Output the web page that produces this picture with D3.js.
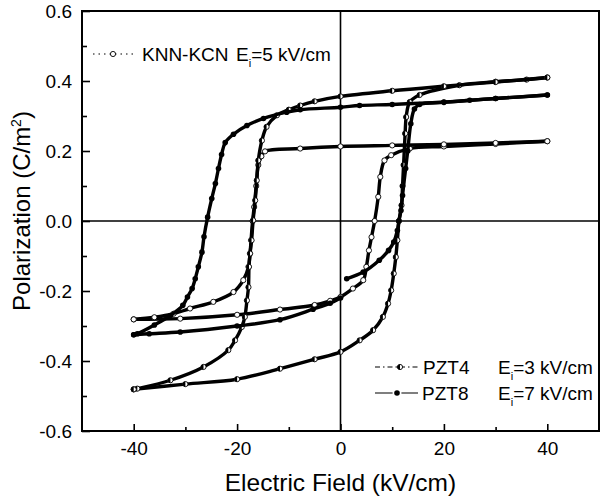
<!DOCTYPE html>
<html>
<head>
<meta charset="utf-8">
<script src="https://cdn.jsdelivr.net/npm/d3@7"></script>
<style>
  body { margin: 0; background: #fff; }
  text { font-family: "Liberation Sans", Arial, sans-serif; fill: #000; }
</style>
</head>
<body>
<div id="chart"></div>
<script>
// tick values
var xMajor = [-40, -20, 0, 20, 40];
var xMinor = [-30, -10, 10, 30];
var yMajor = [-0.6, -0.4, -0.2, 0.0, 0.2, 0.4, 0.6];
var yMinor = [-0.5, -0.3, -0.1, 0.1, 0.3, 0.5];

// KNN-KCN loop, [E kV/cm, P C/m2]
var knnRise = [[-40,-0.281],[-31,-0.279],[-20,-0.268],[-11.7,-0.253],[-5,-0.24],[-2,-0.228],[0,-0.217],
  [2.4,-0.193],[4.4,-0.169],[5,-0.131],[5.5,-0.084],[6,-0.046],[6.6,0],[7.3,0.069],[7.7,0.126],
  [8.5,0.173],[9.8,0.188],[13.4,0.207],[20,0.213],[30,0.22],[40,0.228]];
var knnFall = [[40,0.228],[30,0.223],[20,0.219],[10,0.216],[0,0.213],[-7.8,0.207],[-14.6,0.199],
  [-15.3,0.185],[-15.9,0.16],[-16.3,0.1],[-16.7,0.04],[-17,0],[-17.3,-0.055],[-17.5,-0.093],
  [-17.8,-0.131],[-18.8,-0.169],[-20.7,-0.203],[-24.6,-0.231],[-29.1,-0.25],[-32.3,-0.265],
  [-36,-0.275],[-40,-0.281]];

// PZT4 loop
var pzt4Rise = [[-40,-0.481],[-30,-0.466],[-20,-0.452],[-11.7,-0.422],[-5,-0.395],[0,-0.374],
  [3.7,-0.341],[6.3,-0.312],[8.2,-0.274],[9.2,-0.236],[9.8,-0.198],[10.3,-0.15],[10.7,-0.103],
  [11,-0.055],[11.3,0],[11.8,0.045],[12,0.1],[12.2,0.16],[12.5,0.25],[12.7,0.297],[13.4,0.34],
  [15.3,0.36],[23,0.388],[30,0.398],[36,0.404],[40,0.41]];
var pzt4Fall = [[40,0.41],[30,0.397],[20,0.385],[10,0.372],[0,0.356],[-5,0.342],[-7.8,0.33],
  [-10,0.318],[-12.3,0.302],[-14.3,0.269],[-15.2,0.23],[-15.9,0.173],[-16.2,0.116],[-16.5,0.059],
  [-16.9,0.002],[-17.2,-0.055],[-17.5,-0.093],[-17.7,-0.131],[-17.8,-0.189],[-18.1,-0.227],
  [-18.5,-0.274],[-19.1,-0.303],[-20.4,-0.341],[-21.7,-0.369],[-26.5,-0.417],[-32.9,-0.455],
  [-39.3,-0.479],[-40,-0.481]];

// PZT8 loop (starts near E=0 on the lower branch)
var pzt8Up = [[1.2,-0.165],[4.4,-0.146],[7.5,-0.112],[9.3,-0.084],[10.3,-0.06],[11,-0.027],
  [11.3,0],[11.7,0.03],[12,0.073],[12.6,0.15],[13,0.2],[13.6,0.278],[14.3,0.32],[15.3,0.333],
  [20,0.339],[25,0.345],[30,0.35],[40,0.36]];
var pzt8Down = [[40,0.36],[30,0.35],[20,0.34],[10,0.333],[3.7,0.33],[0,0.325],[-7.8,0.318],
  [-10.4,0.311],[-14.9,0.293],[-18.1,0.273],[-20.7,0.248],[-22.3,0.224],[-23,0.19],[-23.6,0.15],
  [-24.2,0.107],[-24.9,0.064],[-25.7,0.011],[-26.4,-0.045],[-26.8,-0.089],[-27.5,-0.131],
  [-28.1,-0.165],[-28.7,-0.193],[-29.6,-0.217],[-30.5,-0.241],[-32.9,-0.27],[-36,-0.297],
  [-39.3,-0.322],[-40,-0.325]];
var pzt8Back = [[-40,-0.325],[-37,-0.322],[-31,-0.317],[-20,-0.3],[-11.7,-0.282],[-5.3,-0.252],
  [-2,-0.235],[0,-0.22]];

var W = 604, H = 498;
var plotL = 82, plotR = 599, plotT = 11, plotB = 431;

var svg = d3.select("#chart").append("svg")
  .attr("width", W).attr("height", H);

var x = d3.scaleLinear().domain([-50, 50]).range([plotL, plotR]);
var y = d3.scaleLinear().domain([-0.6, 0.6]).range([plotB, plotT]);

// zero lines
svg.append("line").attr("x1", x(0)).attr("x2", x(0)).attr("y1", plotT).attr("y2", plotB)
  .attr("stroke", "#000").attr("stroke-width", 1.6);
svg.append("line").attr("x1", plotL).attr("x2", plotR).attr("y1", y(0)).attr("y2", y(0))
  .attr("stroke", "#000").attr("stroke-width", 1.6);

// axes, ticks inside
var xAxis = svg.append("g").attr("transform", "translate(0," + plotB + ")")
  .call(d3.axisBottom(x).tickValues(xMajor).tickSize(-7).tickPadding(11)
    .tickFormat(d3.format("d")));
svg.append("g").attr("transform", "translate(0," + plotB + ")")
  .call(d3.axisBottom(x).tickValues(xMinor).tickSize(-4).tickFormat(""));
var yAxis = svg.append("g").attr("transform", "translate(" + plotL + ",0)")
  .call(d3.axisLeft(y).tickValues(yMajor).tickSize(-8).tickPadding(10)
    .tickFormat(d3.format(".1f")));
svg.append("g").attr("transform", "translate(" + plotL + ",0)")
  .call(d3.axisLeft(y).tickValues(yMinor).tickSize(-5).tickFormat(""));

svg.selectAll(".domain").remove();
svg.selectAll(".tick line").attr("stroke", "#000").attr("stroke-width", 1.6);
svg.selectAll(".tick text").style("font-size", "19px").style("font-family", "Liberation Sans, Arial, sans-serif");
// plain hyphen minus like the original
yAxis.selectAll(".tick text").text(function (d) { return d3.format(".1f")(d).replace("−", "-"); });
xAxis.selectAll(".tick text").text(function (d) { return String(d); });

// frame
svg.append("rect").attr("x", plotL).attr("y", plotT)
  .attr("width", plotR - plotL).attr("height", plotB - plotT)
  .attr("fill", "none").attr("stroke", "#000").attr("stroke-width", 2);

var line = d3.line()
  .x(function (d) { return x(d[0]); })
  .y(function (d) { return y(d[1]); })
  .curve(d3.curveCatmullRom.alpha(0.5));

var halfPath = function (r) {
  return "M0," + (-r) + "A" + r + "," + r + " 0 0 0 0," + r + "Z";
};

function drawMarker(g, cx, cy, kind) {
  if (kind === "open") {
    g.append("circle").attr("cx", cx).attr("cy", cy).attr("r", 2.6)
      .attr("fill", "#fff").attr("stroke", "#000").attr("stroke-width", 0.9);
  } else if (kind === "half") {
    g.append("circle").attr("cx", cx).attr("cy", cy).attr("r", 2.6)
      .attr("fill", "#fff").attr("stroke", "#000").attr("stroke-width", 0.9);
    g.append("path").attr("d", halfPath(2.6)).attr("transform", "translate(" + cx + "," + cy + ")")
      .attr("fill", "#000");
  } else {
    g.append("circle").attr("cx", cx).attr("cy", cy).attr("r", 2.8)
      .attr("fill", "#000");
  }
}

var series = [
  { data: [knnRise, knnFall], kind: "open", dash: "1.5,2" },
  { data: [pzt4Rise, pzt4Fall], kind: "half", dash: "5,2,1.5,2" },
  { data: [pzt8Up, pzt8Down, pzt8Back], kind: "fill", dash: null }
];

series.forEach(function (s) {
  var g = svg.append("g");
  s.data.forEach(function (br) {
    g.append("path").datum(br).attr("d", line)
      .attr("fill", "none").attr("stroke", "#000").attr("stroke-width", 3.4);
    g.append("path").datum(br).attr("d", line)
      .attr("fill", "none").attr("stroke", "#000").attr("stroke-width", 1)
      .attr("stroke-dasharray", s.dash);
    br.forEach(function (d) { drawMarker(g, x(d[0]), y(d[1]), s.kind); });
  });
});

// legends
function legendRow(x1, x2, mx, yy, kind, dash) {
  var g = svg.append("g");
  g.append("line").attr("x1", x1).attr("x2", x2).attr("y1", yy).attr("y2", yy)
    .attr("stroke", "#000").attr("stroke-width", 1.2).attr("stroke-dasharray", dash);
  if (kind === "fill") {
    g.append("circle").attr("cx", mx).attr("cy", yy).attr("r", 4.5).attr("fill", "#fff");
  }
  drawMarker(g, mx, yy, kind);
}

function eLabel(tx, ty, val) {
  var t = svg.append("text").attr("x", tx).attr("y", ty).style("font-size", "19px");
  t.append("tspan").text("E");
  t.append("tspan").attr("dy", 6).style("font-size", "11px").text("i");
  t.append("tspan").attr("dy", -6).text("=" + val + " kV/cm");
}

legendRow(93, 133, 113, 54, "open", "1.5,4");
svg.append("text").attr("x", 142).attr("y", 61).style("font-size", "19px").text("KNN-KCN ");
eLabel(236, 61, 5);

legendRow(375, 420, 400, 367, "half", "5,3,1.5,3");
svg.append("text").attr("x", 423).attr("y", 374).style("font-size", "19px").text("PZT4");
eLabel(498, 374, 3);

legendRow(375, 418, 397, 393, "fill", null);
svg.append("text").attr("x", 422).attr("y", 400).style("font-size", "19px").text("PZT8");
eLabel(498, 400, 7);

// axis titles
svg.append("text").attr("x", x(0)).attr("y", 491)
  .attr("text-anchor", "middle").style("font-size", "24.5px")
  .text("Electric Field (kV/cm)");

var yl = svg.append("text")
  .attr("transform", "translate(30," + 211 + ") rotate(-90)")
  .attr("text-anchor", "middle").style("font-size", "24px");
yl.append("tspan").text("Polarization (C/m");
yl.append("tspan").attr("dy", -9).style("font-size", "14px").text("2");
yl.append("tspan").attr("dy", 9).text(")");
</script>
</body>
</html>
